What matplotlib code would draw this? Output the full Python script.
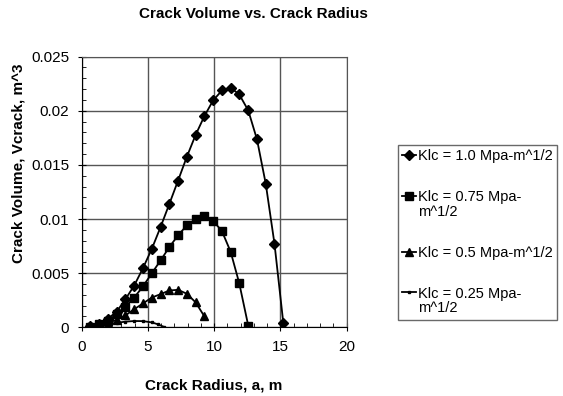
import matplotlib
matplotlib.use("Agg")
import matplotlib.pyplot as plt
from matplotlib.ticker import MultipleLocator
from matplotlib.legend_handler import HandlerLine2D

plt.rcParams['font.family'] = ['Liberation Sans', 'DejaVu Sans']

# crack radius a (m) and crack volume (m^3)
a_10 = [0.66, 1.32, 1.99, 2.65, 3.31, 3.97, 4.63, 5.30, 5.96, 6.62, 7.28, 7.94,
        8.61, 9.27, 9.93, 10.60, 11.25, 11.90, 12.58, 13.24, 13.90, 14.56, 15.23]
v_10 = [0.0001, 0.0003, 0.0008, 0.00145, 0.0026, 0.00386, 0.00546, 0.00725,
        0.00926, 0.01139, 0.01355, 0.01574, 0.01778, 0.01951, 0.02096, 0.02188,
        0.02213, 0.02151, 0.02003, 0.01735, 0.01327, 0.00772, 0.00037]

a_075 = [0.66, 1.32, 1.99, 2.65, 3.31, 3.97, 4.63, 5.30, 5.96, 6.62, 7.28, 7.94,
         8.61, 9.27, 9.93, 10.60, 11.25, 11.90, 12.58]
v_075 = [0.0, 0.00031, 0.00062, 0.00123, 0.00191, 0.00275, 0.00377, 0.0050,
         0.00617, 0.00741, 0.00849, 0.00941, 0.0100, 0.01025, 0.00985, 0.00886,
         0.00698, 0.00407, 0.00015]

a_05 = [0.66, 1.32, 1.99, 2.65, 3.31, 3.97, 4.63, 5.30, 5.96, 6.62, 7.28, 7.94,
        8.61, 9.27]
v_05 = [0.00003, 0.0002, 0.0004, 0.0007, 0.0011, 0.00167, 0.0022, 0.00275,
        0.00306, 0.0034, 0.00346, 0.0031, 0.0023, 0.001]

a_025 = [0.66, 1.32, 1.99, 2.65, 3.31, 3.97, 4.63, 5.30, 5.75, 6.2]
v_025 = [0.00002, 0.00012, 0.00028, 0.00042, 0.00052, 0.00058, 0.00057,
         0.00045, 0.00028, 0.00005]

labels = ['Klc = 1.0 Mpa-m^1/2', 'Klc = 0.75 Mpa-\nm^1/2',
          'Klc = 0.5 Mpa-m^1/2', 'Klc = 0.25 Mpa-\nm^1/2']


class FirstLineHandler(HandlerLine2D):
    # put the legend marker next to the first line of a wrapped label
    def __init__(self, shift=0.0, **kw):
        super().__init__(**kw)
        self.shift = shift

    def create_artists(self, legend, orig_handle, xdescent, ydescent,
                       width, height, fontsize, trans):
        return super().create_artists(legend, orig_handle, xdescent,
                                      ydescent - self.shift * fontsize,
                                      width, height, fontsize, trans)


fig = plt.figure(figsize=(5.63, 3.96), dpi=100)
ax = fig.add_axes([0.145, 0.1735, 0.4705, 0.6835])

l1, = ax.plot(a_10, v_10, color='black', lw=1.3, marker='D', ms=5, label=labels[0])
l2, = ax.plot(a_075, v_075, color='black', lw=1.3, marker='s', ms=5.8, label=labels[1])
l3, = ax.plot(a_05, v_05, color='black', lw=1.3, marker='^', ms=6, label=labels[2])
l4, = ax.plot(a_025, v_025, color='black', lw=1.3, marker='s', ms=2, label=labels[3])

ax.set_xlim(0, 20)
ax.set_ylim(0, 0.025)
ax.xaxis.set_major_locator(MultipleLocator(5))
ax.xaxis.set_minor_locator(MultipleLocator(1))
ax.yaxis.set_minor_locator(MultipleLocator(0.001))
ax.set_yticks([0, 0.005, 0.01, 0.015, 0.02, 0.025])
ax.set_yticklabels(['0', '0.005', '0.01', '0.015', '0.02', '0.025'])
ax.grid(True, which='major', color='#555555', lw=1.0)
ax.set_axisbelow(True)
ax.tick_params(which='major', direction='inout', length=6, labelsize=11, pad=6)
ax.tick_params(which='minor', direction='in', length=3)
for s in ['top', 'right']:
    ax.spines[s].set_color('#555555')

# title is centred over the whole chart area, not just the axes
ax.set_title('Crack Volume vs. Crack Radius', fontsize=11, fontweight='bold',
             pad=28, x=0.65)
ax.set_xlabel('Crack Radius, a, m', fontsize=11, fontweight='bold', labelpad=18)
ax.set_ylabel('Crack Volume, Vcrack, m^3', fontsize=11, fontweight='bold',
              labelpad=4, y=0.607)

hmap = {l2: FirstLineHandler(shift=1.3), l4: FirstLineHandler(shift=1.3)}
leg = fig.legend([l1, l2, l3, l4], labels, handler_map=hmap,
                 loc='upper left', bbox_to_anchor=(398 / 563, 1 - 145 / 396),
                 fontsize=10.5, frameon=True, fancybox=False, edgecolor='#444444',
                 handlelength=0.95, handletextpad=0.12, labelspacing=1.85,
                 borderpad=0.3, borderaxespad=0)
leg.get_frame().set_linewidth(1.0)
for t in leg.get_texts():
    t.set_linespacing(1.05)

fig.savefig('out.png', dpi=100)
